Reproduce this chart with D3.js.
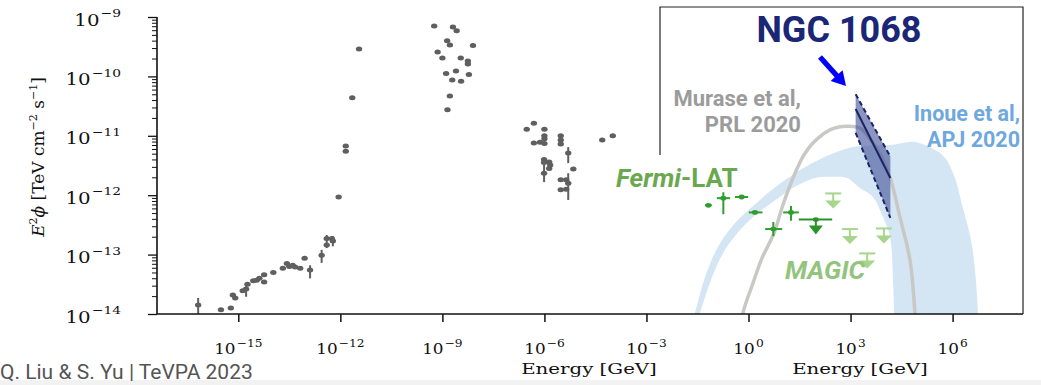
<!DOCTYPE html>
<html><head><meta charset="utf-8">
<script src="https://cdn.jsdelivr.net/npm/d3@7"></script>
<style>body{margin:0;background:#fff}svg{display:block}</style>
</head><body>
<svg id="c" width="1041" height="385"></svg>
<script>
// ---------- DATA (log10 units: E in GeV, E^2 phi in TeV cm^-2 s^-1) ----------
const xTickExps = [-15, -12, -9, -6, -3, 0, 3, 6];
const yTickExps = [-14, -13, -12, -11, -10, -9];

// multiwavelength SED of NGC 1068 (radio -> X-ray): [logE, logF]
const greyPoints = [
 [-16.18,-13.85],[-15.51,-13.93],[-15.22,-13.90],[-15.16,-13.68],[-15.09,-13.73],
 [-14.87,-13.61],[-14.77,-13.58],[-14.73,-13.50],[-14.56,-13.44],[-14.46,-13.43],
 [-14.38,-13.40],[-14.24,-13.34],[-14.24,-13.46],[-13.97,-13.30],[-13.69,-13.23],
 [-13.57,-13.15],[-13.50,-13.20],[-13.40,-13.18],[-13.33,-13.21],[-13.18,-13.23],
 [-13.05,-13.06],[-12.89,-13.26],[-12.55,-13.01],[-12.40,-12.84],[-12.40,-12.73],
 [-12.25,-12.73],[-12.22,-12.77],[-12.05,-12.03],[-11.84,-11.17],[-11.84,-11.26],
 [-11.65,-10.36],[-11.45,-9.54],
 [-9.24,-9.15],[-8.69,-9.17],[-8.58,-9.23],[-8.86,-9.40],[-8.78,-9.47],[-8.10,-9.48],
 [-9.14,-9.59],[-9.00,-9.69],[-8.46,-9.69],[-8.25,-9.74],[-8.25,-9.79],[-8.89,-9.95],
 [-8.60,-9.91],[-8.22,-9.97],[-8.71,-10.06],[-8.45,-10.08],[-8.78,-10.33],[-8.85,-10.56],
 [-6.52,-10.89],[-6.31,-10.79],[-6.00,-10.89],[-6.00,-11.00],[-6.00,-11.05],[-6.00,-11.13],
 [-6.31,-11.12],[-6.13,-11.11],[-5.52,-11.00],[-5.52,-11.07],[-5.52,-11.14],[-5.30,-11.29],
 [-6.01,-11.40],[-6.01,-11.45],[-5.86,-11.44],[-5.83,-11.49],[-5.86,-11.55],[-6.01,-11.63],
 [-5.15,-11.56],[-5.52,-11.74],[-5.36,-11.74],[-5.52,-11.91],[-5.36,-11.90],[-5.30,-11.80],
 [-4.30,-11.07],[-3.99,-11.00]
];
// vertical error bars on the SED: [logE, logF low, logF high]
const greyErrors = [
 [-16.18,-14.10,-13.73],[-14.77,-13.71,-13.51],[-12.89,-13.40,-13.18],[-12.55,-13.14,-12.92],
 [-12.40,-12.89,-12.67],[-12.22,-12.86,-12.69],[-6.01,-11.78,-11.49],[-5.30,-11.46,-11.19],
 [-5.30,-12.08,-11.63]
];
// Fermi-LAT: [logE, logF, logE low, logE high, logF low, logF high]
const fermiPoints = [
 [-1.18,-12.17,-1.28,-1.08,null,null],
 [-0.74,-12.05,-0.93,-0.54,-12.32,-11.95],
 [-0.20,-12.03,-0.40,-0.01,null,null],
 [0.19,-12.29,0.01,0.41,null,null],
 [0.73,-12.57,0.49,0.99,-12.69,-12.45],
 [1.25,-12.29,1.02,1.48,-12.43,-12.18]
];
// Fermi-LAT upper limit: [logE, logF, logE low, logE high]
const fermiLimits = [[1.98,-12.41,1.48,2.46]];
// MAGIC upper limits: [logE, logF]
const magicLimits = [[2.49,-11.97],[2.98,-12.57],[3.98,-12.56],[3.49,-12.98]];
// IceCube NGC 1068 butterfly
const icecubeE = [3.15, 4.17];
const icecubeCentral = [-10.55, -11.71];
const icecubeUpper = [-10.30, -11.35];
const icecubeLower = [-10.95, -12.38];
// Murase et al. PRL 2020 model
const muraseModel = [
 [-0.279,-14.44],[-0.162,-13.98],[0.132,-13.48],[0.397,-13.06],[0.750,-12.64],[1.014,-12.16],
 [1.367,-11.63],[1.631,-11.32],[1.896,-11.12],[2.396,-10.90],[2.895,-10.84],[3.277,-10.87],
 [3.659,-11.12],[3.924,-11.36],[4.159,-11.69],[4.453,-12.37],[4.747,-13.09],[4.894,-13.98],[4.953,-14.44]
];
// Inoue et al. APJ 2020 model band (outer and inner edges)
const inoueOuter = [
 [-1.778,-14.44],[-1.573,-13.98],[-1.279,-13.38],[-0.897,-12.87],[-0.397,-12.47],[0.103,-12.20],
 [0.691,-11.91],[1.367,-11.63],[2.043,-11.41],[3.072,-11.19],[4.248,-11.15],[4.835,-11.10],
 [5.423,-11.22],[5.776,-11.37],[6.070,-11.71],[6.276,-12.16],[6.541,-12.75],[6.658,-13.26],
 [6.747,-13.98],[6.776,-14.44]
];
const inoueInner = [
 [-1.690,-14.44],[-1.426,-13.98],[-1.073,-13.38],[-0.691,-12.92],[-0.191,-12.55],[0.279,-12.30],
 [0.867,-12.05],[1.455,-11.83],[1.955,-11.71],[2.454,-11.69],[2.895,-11.71],[3.277,-11.88],
 [3.659,-12.03],[3.924,-12.33],[4.159,-12.70],[4.248,-13.43],[4.277,-13.98],[4.292,-14.44]
];

// ---------- SCALES ----------
const svg = d3.select('#c');
const x = d3.scaleLog().domain([10 ** -17.39, 10 ** 8.07]).range([157, 1023]);
const y = d3.scaleLog().domain([1e-14, 1e-9]).range([314, 17]);
const X = e => x(10 ** e), Y = f => y(10 ** f);

svg.append('rect').attr('x', 0).attr('y', 380).attr('width', 1041).attr('height', 5).attr('fill', '#f2f2f2');

svg.append('defs').append('clipPath').attr('id', 'clip')
  .append('rect').attr('x', 157).attr('y', 7).attr('width', 866).attr('height', 307);
const plot = svg.append('g').attr('clip-path', 'url(#clip)');

// Inoue band
const bandPts = inoueOuter.concat(inoueInner.slice().reverse());
plot.append('path')
  .attr('d', d3.line().x(d => X(d[0])).y(d => Y(d[1])).curve(d3.curveCatmullRomClosed)(bandPts))
  .attr('fill', '#d4e5f4');

// Murase curve
plot.append('path')
  .attr('d', d3.line().x(d => X(d[0])).y(d => Y(d[1])).curve(d3.curveCatmullRom)(muraseModel))
  .attr('fill', 'none').attr('stroke', '#c8c8c4').attr('stroke-width', 3.5);

// grey SED
const grey = '#5f5f5f';
plot.selectAll('.gerr').data(greyErrors).join('line')
  .attr('x1', d => X(d[0])).attr('x2', d => X(d[0]))
  .attr('y1', d => Y(d[1])).attr('y2', d => Y(d[2]))
  .attr('stroke', grey).attr('stroke-width', 2);
plot.selectAll('.gpt').data(greyPoints).join('ellipse')
  .attr('cx', d => X(d[0])).attr('cy', d => Y(d[1]))
  .attr('rx', 3.2).attr('ry', 2.5).attr('fill', grey);

// Fermi-LAT
const fGreen = '#2f9e2f';
const fg = plot.append('g').attr('stroke', fGreen).attr('stroke-width', 2);
fermiPoints.forEach(d => {
  fg.append('line').attr('x1', X(d[2])).attr('x2', X(d[3])).attr('y1', Y(d[1])).attr('y2', Y(d[1]));
  if (d[4] !== null) fg.append('line').attr('x1', X(d[0])).attr('x2', X(d[0])).attr('y1', Y(d[4])).attr('y2', Y(d[5]));
  fg.append('ellipse').attr('cx', X(d[0])).attr('cy', Y(d[1])).attr('rx', 3).attr('ry', 2.4).attr('fill', fGreen).attr('stroke', 'none');
});
const ulGreen = '#2a942a';
fermiLimits.forEach(d => {
  const cx = X(d[0]), cy = Y(d[1]);
  fg.append('line').attr('x1', X(d[2])).attr('x2', X(d[3])).attr('y1', cy).attr('y2', cy).attr('stroke', ulGreen);
  fg.append('line').attr('x1', cx).attr('x2', cx).attr('y1', cy).attr('y2', cy + 8).attr('stroke', ulGreen);
  fg.append('ellipse').attr('cx', cx).attr('cy', cy).attr('rx', 3).attr('ry', 2.4).attr('fill', ulGreen).attr('stroke', 'none');
  fg.append('path').attr('d', `M${cx - 7},${cy + 6}L${cx + 7},${cy + 6}L${cx},${cy + 15}Z`).attr('fill', ulGreen).attr('stroke', 'none');
});

// MAGIC upper limits
const mGreen = '#a6d68c';
const mg = plot.append('g').attr('stroke', mGreen).attr('stroke-width', 2);
magicLimits.forEach(d => {
  const cx = X(d[0]), cy = Y(d[1]);
  mg.append('line').attr('x1', cx - 8).attr('x2', cx + 8).attr('y1', cy).attr('y2', cy);
  mg.append('line').attr('x1', cx).attr('x2', cx).attr('y1', cy).attr('y2', cy + 8);
  mg.append('path').attr('d', `M${cx - 8},${cy + 7}L${cx + 8},${cy + 7}L${cx},${cy + 15}Z`).attr('fill', mGreen).attr('stroke', 'none');
});

// IceCube butterfly
const bf = svg.append('g');
const poly = [[icecubeE[0], icecubeUpper[0]], [icecubeE[1], icecubeUpper[1]], [icecubeE[1], icecubeLower[1]], [icecubeE[0], icecubeLower[0]]];
bf.append('path').attr('d', d3.line().x(d => X(d[0])).y(d => Y(d[1]))(poly) + 'Z')
  .attr('fill', '#3f4f96').attr('fill-opacity', 0.6);
const navy = '#1b2566';
[[icecubeUpper, '5,3'], [icecubeLower, '5,3'], [icecubeCentral, null]].forEach(([arr, dash]) => {
  bf.append('line').attr('x1', X(icecubeE[0])).attr('x2', X(icecubeE[1]))
    .attr('y1', Y(arr[0])).attr('y2', Y(arr[1]))
    .attr('stroke', navy).attr('stroke-width', 2).attr('stroke-dasharray', dash);
});

// ---------- AXES ----------
const axG = svg.append('g');
const xa = axG.append('g').attr('transform', 'translate(0,314)')
  .call(d3.axisBottom(x).tickValues(xTickExps.map(e => 10 ** e)).tickSize(8).tickFormat(''));
xa.select('.domain').remove();
xa.selectAll('line').attr('stroke', '#111').attr('stroke-width', 1.5);
axG.append('line').attr('x1', 157).attr('x2', 1023).attr('y1', 314).attr('y2', 314).attr('stroke', '#111').attr('stroke-width', 1.6);
const ya = axG.append('g').attr('transform', 'translate(157,0)')
  .call(d3.axisLeft(y).tickValues(yTickExps.map(e => 10 ** e)).tickSize(9).tickFormat(''));
ya.select('.domain').remove();
ya.selectAll('line').attr('stroke', '#111').attr('stroke-width', 1.3);
const minor = [];
yTickExps.slice(0, -1).forEach(e => { for (let k = 2; k <= 9; k++) minor.push(k * 10 ** e); });
const ym = axG.append('g').attr('transform', 'translate(157,0)')
  .call(d3.axisLeft(y).tickValues(minor).tickSize(5).tickFormat(''));
ym.select('.domain').remove();
ym.selectAll('line').attr('stroke', '#111').attr('stroke-width', 1);
axG.append('line').attr('x1', 157).attr('x2', 157).attr('y1', 17).attr('y2', 314).attr('stroke', '#111').attr('stroke-width', 1.6);
// frame of the gamma-ray panel
axG.append('path').attr('d', 'M660,155V7H1023V314').attr('fill', 'none').attr('stroke', '#222').attr('stroke-width', 1.2);

function sci(g, exp, size, sup) {
  const t = g.append('text').attr('font-family', 'DejaVu Serif').attr('font-size', size).attr('fill', '#111');
  t.append('tspan').text('10');
  t.append('tspan').attr('dy', -size * 0.5).attr('dx', 1).attr('font-size', sup).text(exp < 0 ? '\u2212' + (-exp) : String(exp));
  return t;
}
xTickExps.forEach(e => {
  const g = svg.append('g').attr('transform', `translate(${X(e)},354) scale(1.16,1)`);
  sci(g, e, 14.5, 10.5).attr('text-anchor', 'middle');
});
yTickExps.forEach(e => {
  const g = svg.append('g').attr('transform', `translate(121,${Y(e) + 8.5}) scale(1.2,1)`);
  sci(g, e, 16.5, 11.5).attr('text-anchor', 'end');
});

// axis titles
[589, 860].forEach(cx => {
  svg.append('g').attr('transform', `translate(${cx},374) scale(1.32,1)`)
    .append('text').attr('text-anchor', 'middle').attr('font-family', 'DejaVu Serif').attr('font-size', 15).attr('fill', '#111')
    .text('Energy [GeV]');
});
const yl = svg.append('text').attr('transform', 'translate(44,157) rotate(-90)')
  .attr('text-anchor', 'middle').attr('font-family', 'DejaVu Serif').attr('font-size', 17).attr('fill', '#111');
yl.append('tspan').attr('font-style', 'italic').text('E');
yl.append('tspan').attr('dy', -7).attr('font-size', 11).text('2');
yl.append('tspan').attr('dy', 7).attr('font-style', 'italic').text('\u03D5 ');
yl.append('tspan').text('[TeV cm');
yl.append('tspan').attr('dy', -7).attr('font-size', 11).text('\u22122');
yl.append('tspan').attr('dy', 7).text(' s');
yl.append('tspan').attr('dy', -7).attr('font-size', 11).text('\u22121');
yl.append('tspan').attr('dy', 7).text(']');

// ---------- ANNOTATIONS ----------
const sans = 'Roboto, "Noto Sans", sans-serif';
svg.append('text').attr('x', 839).attr('y', 42).attr('text-anchor', 'middle')
  .attr('font-family', sans).attr('font-weight', 700).attr('font-size', 36).attr('fill', '#1b2676').text('NGC 1068');
const a0 = [820, 57], a1 = [846, 86];
const ang = Math.atan2(a1[1] - a0[1], a1[0] - a0[0]) * 180 / Math.PI;
const L = Math.hypot(a1[0] - a0[0], a1[1] - a0[1]);
svg.append('path').attr('transform', `translate(${a0[0]},${a0[1]}) rotate(${ang})`)
  .attr('d', `M0,-2.6L${L - 14},-2.6L${L - 14},-8L${L},0L${L - 14},8L${L - 14},2.6L0,2.6Z`).attr('fill', '#0000ff');

[['Murase et al,', 106], ['PRL 2020', 132]].forEach(([t, yy]) => {
  svg.append('text').attr('x', 801).attr('y', yy).attr('text-anchor', 'end').attr('font-family', sans)
    .attr('font-weight', 700).attr('font-size', 22).attr('fill', '#9b9b9b').text(t);
});
[['Inoue et al,', 121], ['APJ 2020', 147]].forEach(([t, yy]) => {
  svg.append('text').attr('x', 1020).attr('y', yy).attr('text-anchor', 'end').attr('font-family', sans)
    .attr('font-weight', 700).attr('font-size', 21.5).attr('fill', '#6fa8dc').text(t);
});
const ft = svg.append('text').attr('x', 616).attr('y', 187).attr('font-family', sans)
  .attr('font-weight', 700).attr('font-size', 26).attr('fill', '#6aa84f');
ft.append('tspan').attr('font-style', 'italic').text('Fermi');
ft.append('tspan').text('-LAT');
svg.append('text').attr('x', 785).attr('y', 279).attr('font-family', sans).attr('font-style', 'italic')
  .attr('font-weight', 700).attr('font-size', 26).attr('fill', '#93c47d').text('MAGIC');

svg.append('text').attr('x', 0).attr('y', 379).attr('font-family', sans).attr('font-size', 21).attr('fill', '#555')
  .text('Q. Liu & S. Yu | TeVPA 2023');
</script>
</body></html>
